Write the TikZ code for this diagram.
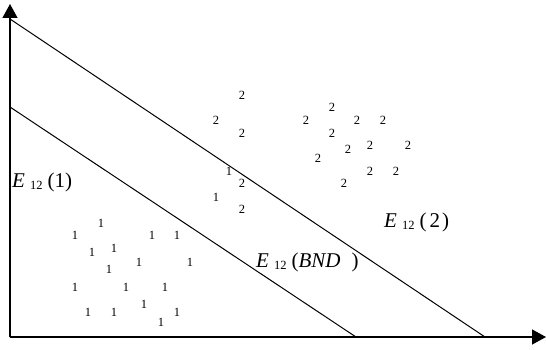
\documentclass[tikz,border=0pt]{standalone}
\usepackage{fontspec}
\setmainfont{Liberation Serif}
\usetikzlibrary{arrows.meta}
\newcommand{\Elab}[1]{\textit{E}\kern5pt\raisebox{-2pt}{\fontsize{12.5}{12.5}\selectfont 12}\kern5pt(#1)}
\begin{document}
\begin{tikzpicture}[x=1pt,y=-1pt,
  axis/.style={line width=1.3pt,-{Triangle[length=14pt,width=15pt]}},
  border/.style={line width=1pt},
  lbl/.style={inner sep=0pt,anchor=base west,font=\fontsize{21}{21}\selectfont},
  dig/.style={inner sep=0pt,font=\fontsize{12.5}{12.5}\selectfont}]
\useasboundingbox (0,0) rectangle (546,350);
\coordinate (o) at (10,337);
\coordinate (ytop) at (10,4);
\coordinate (xend) at (546,337);
\coordinate (u1) at (10,19);
\coordinate (u2) at (485,337);
\coordinate (l1) at (10,107);
\coordinate (l2) at (356,337);
\draw[axis] (o) -- (ytop);
\draw[axis] (o) -- (xend);
\draw[border] (u1) -- (u2);
\draw[border] (l1) -- (l2);
\node[lbl] (e1) at (12,187) {\Elab{1}};
\node[lbl] (e2) at (384,227) {\Elab{\kern3pt 2\kern2pt}};
\node[lbl] (eb) at (256,267) {\Elab{\textit{BND}\hspace{11pt}}};
% class 2
\foreach \x/\y [count=\i] in {242/95,216/120,242/133,332/107,306/120,357/120,383/120,332/133,348/149,370/145,408/145,318/158,370/171,396/171,344/183,242/183,242/209}
  \node[dig] (t\i) at (\x,\y) {2};
% class 1
\foreach \x/\y [count=\i] in {229/171,216/197,101/223,75/235,152/235,177/235,92/252,114/248,139/262,190/262,109/269,75/287,126/287,165/287,88/312,114/312,144/304,177/312,161/322}
  \node[dig] (s\i) at (\x,\y) {1};
\end{tikzpicture}
\end{document}
